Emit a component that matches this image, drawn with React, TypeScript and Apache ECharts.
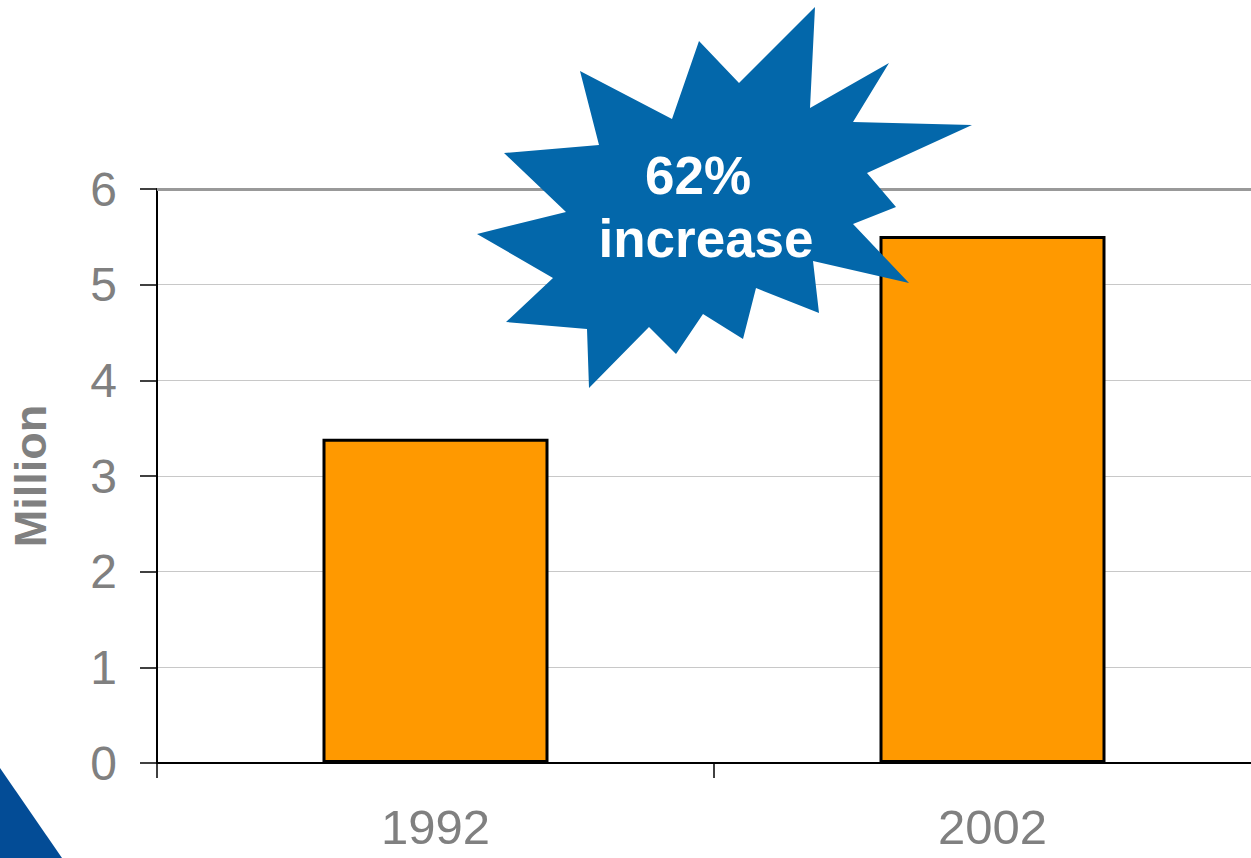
import React, { useEffect, useRef } from "react";
import * as echarts from "echarts";

const categories = ["1992", "2002"];
const values = [3.39, 5.51];
const yTicks = { min: 0, max: 6, interval: 1 };
const burstLines = ["62%", "increase"];

const burstPoints: number[][] = [
  [815, 7], [810, 108], [889, 63], [853, 122], [972, 125], [867, 173],
  [896, 207], [853, 224], [909, 283], [813, 261], [819, 313], [756, 288],
  [743, 339], [703, 314], [676, 354], [649, 327], [589, 388], [587, 329],
  [506, 322], [553, 278], [477, 234], [566, 212], [504, 153], [599, 145],
  [580, 71], [672, 119], [699, 41], [739, 83],
];

export default function App() {
  const ref = useRef<HTMLDivElement>(null);
  useEffect(() => {
    document.body.style.margin = "0";
    const chart = echarts.init(ref.current!, undefined, { renderer: "svg" });
    chart.setOption({
      animation: false,
      backgroundColor: "#ffffff",
      textStyle: { fontFamily: "Liberation Sans, Arial, sans-serif" },
      grid: {
        left: 157,
        top: 189,
        bottom: 95,
        right: -20,
        containLabel: false,
        outerBoundsMode: "none",
      },
      xAxis: {
        type: "category",
        data: categories,
        boundaryGap: true,
        axisLine: { show: true, lineStyle: { color: "#000", width: 2 } },
        axisTick: { show: true, length: 15, lineStyle: { color: "#000", width: 1.5 } },
        axisLabel: { fontSize: 49, color: "#808080", margin: 39 },
        splitLine: { show: false },
      },
      yAxis: {
        type: "value",
        min: yTicks.min,
        max: yTicks.max,
        interval: yTicks.interval,
        name: "Million",
        nameLocation: "middle",
        nameRotate: 90,
        nameGap: 104,
        nameTextStyle: { fontSize: 45, fontWeight: "bold", color: "#808080" },
        axisLine: { show: true, lineStyle: { color: "#000", width: 2 } },
        axisTick: { show: true, length: 17, lineStyle: { color: "#000", width: 1.5 } },
        axisLabel: { fontSize: 48, color: "#808080", margin: 40 },
        splitLine: { show: true, lineStyle: { color: "#c8c8c8", width: 1 } },
      },
      series: [
        {
          type: "bar",
          data: values,
          barWidth: 226,
          itemStyle: { color: "#FF9900", borderColor: "#000", borderWidth: 3 },
          markLine: {
            silent: true,
            symbol: "none",
            label: { show: false },
            lineStyle: { color: "#999999", width: 3, type: "solid" },
            data: [{ yAxis: yTicks.max }],
          },
        },
      ],
      graphic: [
        {
          type: "polygon",
          z: 100,
          shape: { points: [[0, 768], [62, 858], [0, 858]] },
          style: { fill: "#034C96" },
        },
        {
          type: "polygon",
          z: 100,
          shape: { points: burstPoints },
          style: { fill: "#0367AA" },
        },
        {
          type: "text",
          z: 101,
          x: 698,
          y: 175,
          style: {
            text: burstLines[0],
            fill: "#fff",
            fontSize: 53,
            fontWeight: "bold",
            fontFamily: "Liberation Sans, Arial, sans-serif",
            align: "center",
            verticalAlign: "middle",
          },
        },
        {
          type: "text",
          z: 101,
          x: 706,
          y: 238,
          style: {
            text: burstLines[1],
            fill: "#fff",
            fontSize: 53,
            fontWeight: "bold",
            fontFamily: "Liberation Sans, Arial, sans-serif",
            align: "center",
            verticalAlign: "middle",
          },
        },
      ],
    });
    return () => chart.dispose();
  }, []);
  return <div ref={ref} style={{ width: 1251, height: 858 }} />;
}
